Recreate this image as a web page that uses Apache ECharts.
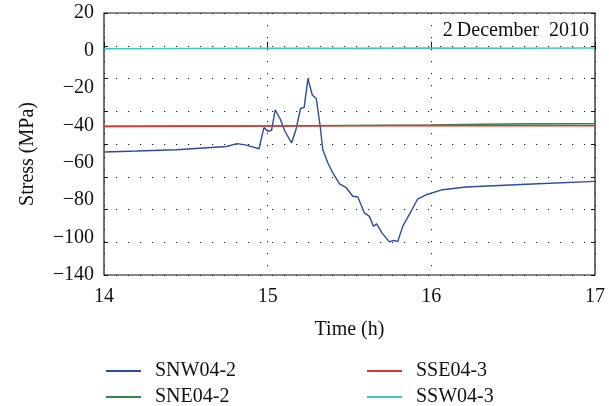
<!DOCTYPE html>
<html>
<head>
<meta charset="utf-8">
<script src="https://cdn.jsdelivr.net/npm/echarts@6/dist/echarts.min.js"></script>
<style>
html,body{margin:0;padding:0;background:#fff;}
#chart{width:609px;height:406px;}
</style>
</head>
<body>
<div id="chart"></div>
<script>
// ---- data ----
const seriesNames = ['SNW04-2', 'SNE04-2', 'SSE04-3', 'SSW04-3'];
const yTickLabels = ['\u2212140', '\u2212100', '\u221280', '\u221260', '\u221240', '\u221220', '0', '20']; // bottom to top, as printed
const xTickValues = [14, 15, 16, 17];

const snwTime = [14.0, 14.2, 14.443, 14.748, 14.813, 14.870, 14.947, 14.977, 15.003, 15.024, 15.046, 15.076, 15.104, 15.146, 15.174, 15.201, 15.223, 15.246, 15.273, 15.297, 15.321, 15.337, 15.368, 15.398, 15.439, 15.480, 15.520, 15.551, 15.591, 15.622, 15.646, 15.666, 15.699, 15.744, 15.768, 15.795, 15.825, 15.876, 15.916, 15.968, 16.069, 16.212, 16.618, 17.0];
const snwStress = [-64.9, -64.3, -63.5, -61.5, -59.8, -60.7, -62.9, -50.0, -52.3, -51.6, -39.1, -44.6, -51.9, -59.4, -50.7, -38.3, -37.6, -20.1, -30.2, -32.2, -49.3, -63.5, -71.6, -77.7, -84.4, -86.7, -91.9, -92.4, -102.1, -104.2, -110.3, -108.7, -114.4, -119.8, -118.9, -119.5, -110.3, -101.2, -93.6, -91.0, -87.9, -86.3, -84.4, -82.8];

const sneTime = [14.0, 15.0, 15.5, 16.0, 16.3, 16.6, 17.0];
const sneStress = [-49.3, -49.0, -48.7, -48.4, -47.9, -47.7, -47.6];

const sseTime = [14.0, 14.5, 15.0, 15.5, 16.0, 16.5, 17.0];
const sseStress = [-49.2, -49.1, -49.0, -48.9, -48.8, -48.9, -48.9];

const sswTime = [14.0, 14.5, 15.0, 15.5, 16.0, 16.5, 17.0];
const sswStress = [-1.8, -1.7, -1.5, -1.6, -1.4, -1.5, -1.4];

const dateLabel = '2\u2009December  2010';

// ---- chart ----
const FONT = '"Liberation Serif", "DejaVu Serif", serif';
const FS = 20;
const colors = ['#2a4ba8', '#2f8a4a', '#e8302c', '#3cc8c4'];
const pairs = (t, v) => t.map((x, i) => [x, v[i]]);
const seriesData = [pairs(snwTime, snwStress), pairs(sneTime, sneStress), pairs(sseTime, sseStress), pairs(sswTime, sswStress)];

const dotted = { color: '#222', width: 1, type: [1.2, 10.8] };

const legendPos = [[106, 361], [106, 387], [367, 361], [367, 387]];
const legends = seriesNames.map((n, i) => ({
  data: [n], left: legendPos[i][0], top: legendPos[i][1], itemWidth: 35, itemHeight: 2, icon: 'rect', padding: 0,
  textStyle: { fontFamily: FONT, fontSize: FS, color: '#111', padding: [0, 0, 0, 9] }
}));

const chart = echarts.init(document.getElementById('chart'), null, { renderer: 'canvas' });
chart.setOption({
  animation: false,
  color: colors,
  title: {
    text: dateLabel, right: 20, top: 21, padding: 0,
    textStyle: { fontFamily: FONT, fontSize: FS, fontWeight: 'normal', color: '#111' }
  },
  grid: { left: 104, right: 14, top: 13, bottom: 131, show: true, borderColor: '#111', borderWidth: 1.2, backgroundColor: 'transparent' },
  legend: legends,
  xAxis: [
    { type: 'value', min: 14, max: 17, interval: 1, position: 'bottom',
      name: 'Time (h)', nameLocation: 'middle', nameGap: 45,
      nameTextStyle: { fontFamily: FONT, fontSize: FS, color: '#111' },
      axisLine: { show: false }, axisTick: { show: true, inside: true, length: 4, lineStyle: { color: '#111' } },
      axisLabel: { fontFamily: FONT, fontSize: FS, color: '#111', margin: 12, formatter: v => xTickValues.includes(v) ? String(v) : '' },
      splitLine: { show: true, lineStyle: dotted } },
    { type: 'value', min: 14, max: 17, interval: 1, position: 'top',
      axisLine: { show: false }, axisTick: { show: true, inside: true, length: 4, lineStyle: { color: '#111' } },
      axisLabel: { show: false }, splitLine: { show: false } }
  ],
  yAxis: [
    { type: 'value', min: -140, max: 20, interval: 20, position: 'left',
      name: 'Stress (MPa)', nameLocation: 'middle', nameGap: 66,
      nameTextStyle: { fontFamily: FONT, fontSize: FS, color: '#111', padding: [0, 20, 0, 0] },
      axisLine: { show: false }, axisTick: { show: true, inside: true, length: 4, lineStyle: { color: '#111' } },
      axisLabel: { show: false },
      splitLine: { show: true, lineStyle: dotted } },
    { type: 'value', min: -140, max: 20, interval: 20, position: 'right',
      axisLine: { show: false }, axisTick: { show: true, inside: true, length: 4, lineStyle: { color: '#111' } },
      axisLabel: { show: false }, splitLine: { show: false } },
    { type: 'category', data: yTickLabels, boundaryGap: false, position: 'left', gridIndex: 0,
      axisLine: { show: false }, axisTick: { show: false }, splitLine: { show: false },
      axisLabel: { fontFamily: FONT, fontSize: FS, color: '#111', margin: 10, interval: 0 } }
  ],
  series: seriesNames.map((name, i) => ({
    name, type: 'line', xAxisIndex: 0, yAxisIndex: 0, data: seriesData[i],
    showSymbol: false, symbol: 'none', lineStyle: { width: i === 0 ? 1.4 : 1.6, color: colors[i] },
    z: [2, 2, 3, 3][i]
  }))
});
</script>
</body>
</html>
